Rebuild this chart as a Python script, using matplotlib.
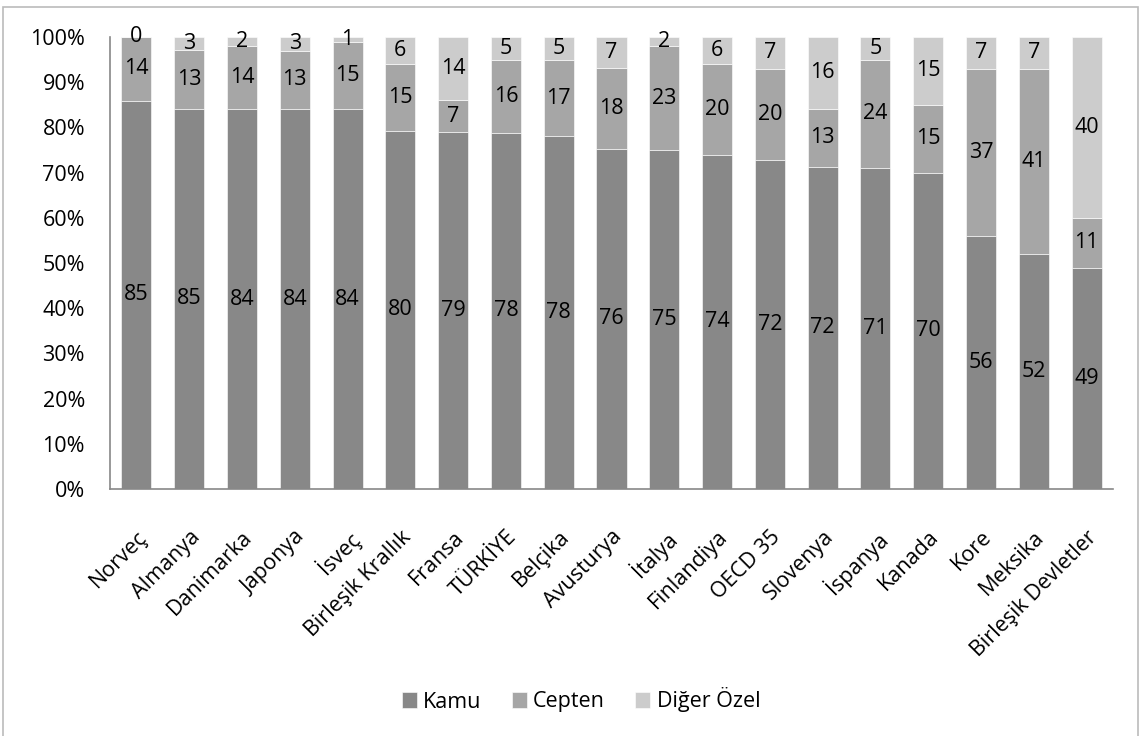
import numpy as np
import matplotlib.pyplot as plt
from matplotlib.patches import Rectangle

countries = ["Norveç", "Almanya", "Danimarka", "Japonya", "İsveç", "Birleşik Krallık",
             "Fransa", "TÜRKİYE", "Belçika", "Avusturya", "İtalya", "Finlandiya",
             "OECD 35", "Slovenya", "İspanya", "Kanada", "Kore", "Meksika",
             "Birleşik Devletler"]
kamu = [85, 85, 84, 84, 84, 80, 79, 78, 78, 76, 75, 74, 72, 72, 71, 70, 56, 52, 49]
cepten = [14, 13, 14, 13, 15, 15, 7, 16, 17, 18, 23, 20, 20, 13, 24, 15, 37, 41, 11]
diger = [0, 3, 2, 3, 1, 6, 14, 5, 5, 7, 2, 6, 7, 16, 5, 15, 7, 7, 40]

series = [("Kamu", kamu, "#888888"),
          ("Cepten", cepten, "#a6a6a6"),
          ("Diğer Özel", diger, "#cccccc")]

plt.rcParams['font.family'] = ['Open Sans', 'DejaVu Sans']
fs = 15.5

fig = plt.figure(figsize=(11.41, 7.36), dpi=100)
ax = fig.add_axes([110 / 1141, 1 - 489 / 736, 1003 / 1141, 452 / 736])

x = np.arange(len(countries))
totals = np.array(kamu) + np.array(cepten) + np.array(diger)
bottom = np.zeros(len(countries))
for name, vals, color in series:
    share = np.array(vals) / totals
    ax.bar(x, share, width=0.57, bottom=bottom, color=color, label=name,
           edgecolor="white", linewidth=0.4)
    for xi, b, s, v in zip(x, bottom, share, vals):
        ax.text(xi, b + s / 2, str(v), ha="center", va="center", fontsize=fs)
    bottom += share

ax.set_xlim(-0.5, len(countries) - 0.5)
ax.set_ylim(0, 1)
yt = np.arange(0, 1.01, 0.1)
ax.set_yticks(yt)
ax.set_yticklabels([f"{int(round(t * 100))}%" for t in yt], fontsize=fs)
ax.set_xticks(x)
ax.set_xticklabels(countries, rotation=45, ha="right", rotation_mode="anchor", fontsize=fs)
ax.tick_params(axis="y", length=0, pad=18)
ax.tick_params(axis="x", length=0, pad=27)
for side in ["top", "right"]:
    ax.spines[side].set_visible(False)
for side in ["left", "bottom"]:
    ax.spines[side].set_color("#888888")
    ax.spines[side].set_linewidth(1.2)

ax.legend(loc="center", bbox_to_anchor=(581 / 1141, 1 - 700 / 736), bbox_transform=fig.transFigure,
          ncol=3, frameon=False, fontsize=fs, handlelength=0.7, handleheight=0.7,
          handletextpad=0.3, columnspacing=1.4)

fig.patches.append(Rectangle((3 / 1141, -0.01), 1 - 6 / 1141, 1.01 - 7 / 736,
                             transform=fig.transFigure, fill=False,
                             edgecolor="#bbbbbb", linewidth=1.2))

fig.savefig("out.png", dpi=100)
